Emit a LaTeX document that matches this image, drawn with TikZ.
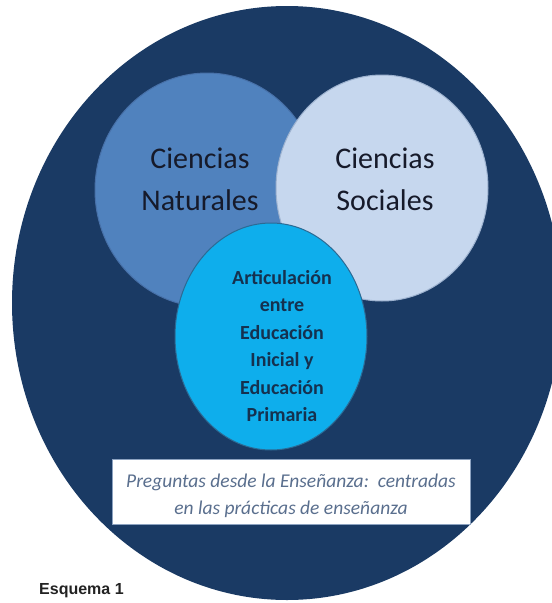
\documentclass[tikz,border=0pt]{standalone}
\usepackage{fontspec}
\setmainfont{Carlito}
\newfontfamily\arialfont{Liberation Sans}
\usetikzlibrary{shapes.geometric}
\definecolor{navy}{HTML}{1A3A64}
\definecolor{natfill}{HTML}{5082BE}
\definecolor{natrim}{HTML}{4770A8}
\definecolor{socfill}{HTML}{C6D7EE}
\definecolor{socrim}{HTML}{9DB2CF}
\definecolor{artfill}{HTML}{0EAEEC}
\definecolor{artrim}{HTML}{2C6A94}
\definecolor{bigtxt}{HTML}{161A2A}
\definecolor{arttxt}{HTML}{15314F}
\definecolor{boxtxt}{HTML}{5A6F8E}
\definecolor{boxrim}{HTML}{8CA2C0}
\definecolor{esqtxt}{HTML}{222222}
\tikzset{
  blob/.style={ellipse, inner sep=0pt, outer sep=0pt},
  bigtext/.style={font=\fontsize{30}{42}\selectfont, align=center, text=bigtxt, inner sep=0pt},
  arttext/.style={font=\bfseries\fontsize{20}{27.4}\selectfont, align=center, text=arttxt, inner sep=0pt},
  boxtext/.style={font=\itshape\fontsize{19.5}{26.5}\selectfont, align=center, text=boxtxt, inner sep=0pt}
}
\begin{document}
\begin{tikzpicture}[x=1pt,y=-1pt]
\useasboundingbox (0,0) rectangle (552,603);
\clip (0,0) rectangle (552,603);
\node[blob, fill=navy, minimum width=550pt, minimum height=594pt] (outer) at (287,303) {};
\node[blob, fill=natfill, draw=natrim, line width=1pt, minimum width=224pt, minimum height=234pt] (nat) at (207,190) {};
\node[blob, fill=socfill, draw=socrim, line width=1pt, minimum width=212pt, minimum height=226pt] (soc) at (382,188) {};
\node[blob, fill=artfill, draw=artrim, line width=1pt, minimum width=192pt, minimum height=227pt] (art) at (271,336.5) {};
\node[draw=boxrim, fill=white, line width=1pt, minimum width=358pt, minimum height=65pt, inner sep=0pt] (box) at (291,491.5) {};
\node[bigtext] (natT) at (200,179) {Ciencias\\Naturales};
\node[bigtext] (socT) at (385,179) {Ciencias\\Sociales};
\node[arttext] (artT) at (282,346) {Articulación\\entre\\Educación\\Inicial y\\Educación\\Primaria};
\node[boxtext] (boxT) at (291,496) {Preguntas desde la Enseñanza:\ \ centradas\\en las prácticas de enseñanza};
\node[font=\arialfont\bfseries\fontsize{16}{19}\selectfont, text=esqtxt, anchor=base west, inner sep=0pt] (esq) at (39,594) {Esquema 1};
\end{tikzpicture}
\end{document}
